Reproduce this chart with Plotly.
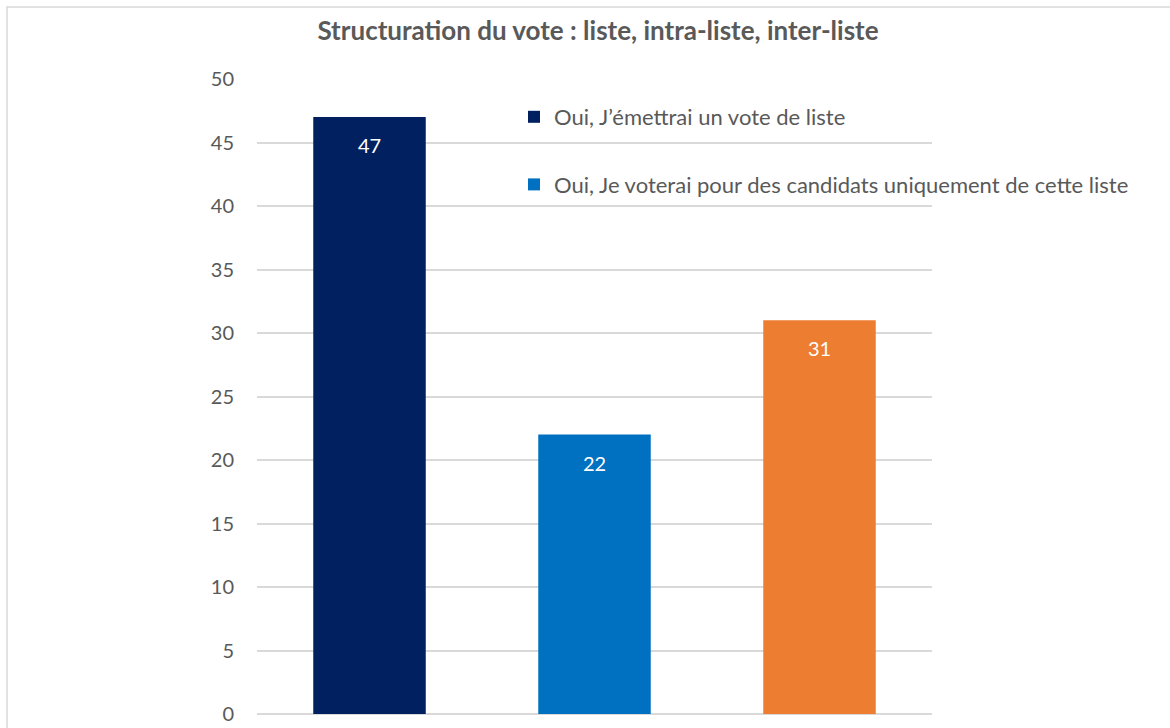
import plotly.graph_objects as go

# data
categories = ["Liste", "Intra-liste", "Inter-liste"]
values = [47, 22, 31]
names = ["Oui, J’émettrai un vote de liste",
         "Oui, Je voterai pour des candidats uniquement de cette liste",
         "Oui, Je voterai pour des candidats de plusieurs listes"]
colors = ["#002060", "#0070C0", "#ED7D31"]
yticks = [0, 5, 10, 15, 20, 25, 30, 35, 40, 45, 50]

FONT = "Lato"
GREY = "#595959"

fig = go.Figure()
for i in range(len(categories)):
    fig.add_trace(go.Bar(x=[categories[i]], y=[values[i]], name=names[i],
                         marker=dict(color=colors[i], line=dict(width=0)),
                         width=0.5, legendgroup="g%d" % i,
                         showlegend=(i < 2)))
    # data labels
    fig.add_annotation(x=categories[i], y=values[i], text=str(values[i]),
                       showarrow=False, yshift=-28,
                       font=dict(family=FONT, size=20, color="white"))

# white patch where the legend box hides the gridlines
fig.add_shape(type="rect", xref="paper", yref="paper", layer="between",
              x0=(837-257)/675, x1=1.0, y0=(714-215)/635, y1=(714-95)/635,
              fillcolor="white", line=dict(width=0))
# chart border
fig.add_shape(type="rect", xref="paper", yref="paper", layer="below",
              x0=(7-257)/675, x1=1.6, y0=-0.2, y1=(714-7)/635,
              fillcolor="rgba(0,0,0,0)", line=dict(color="#d9d9d9", width=1.5))

fig.update_layout(
    width=1170, height=728,
    margin=dict(l=257, r=238, t=79, b=14),
    paper_bgcolor="white", plot_bgcolor="white",
    barmode="overlay",
    font=dict(family=FONT, color=GREY, size=20),
    title=dict(text="<b>Structuration du vote : liste, intra-liste, inter-liste</b>",
               x=598/1170, xanchor="center", y=1-31/728, yanchor="middle",
               font=dict(family=FONT, size=26, color=GREY)),
    legend=dict(x=(514-257)/675, xanchor="left", y=(714-96)/635, yanchor="top",
                bgcolor="rgba(0,0,0,0)", tracegroupgap=36,
                font=dict(family=FONT, size=22, color=GREY)),
    xaxis=dict(showticklabels=False, showgrid=False, zeroline=False,
               showline=False, ticks=""),
    yaxis=dict(range=[0, 50], tickvals=yticks, showgrid=True,
               gridcolor="#d9d9d9", gridwidth=1.5, zeroline=True,
               zerolinecolor="#d9d9d9", zerolinewidth=1.5, showline=False,
               ticks="", ticklen=0, ticklabelstandoff=22, automargin=False,
               tickfont=dict(size=20, color=GREY)),
)

# drop the default 8px page margin so the figure fills the window exactly
fig.write_html("out.html", config={"displayModeBar": False},
               post_script="document.body.style.margin='0';document.body.style.overflow='hidden';")
